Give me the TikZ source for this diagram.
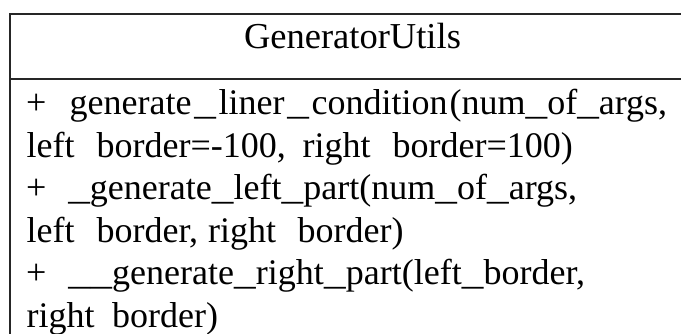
\documentclass[tikz,border=0pt]{standalone}
\usepackage{graphicx}
\usepackage{fontspec}
\setmainfont{Liberation Serif}
% wide underscore, with room to stretch on both sides inside a spread group
\newcommand{\us}{\hspace{0pt plus 1fil}\scalebox{1.2}[1]{\_}\hspace{0pt plus 1fil}}
% a run of text spread to a given width
\newcommand{\spread}[2]{\makebox[#1][s]{#2}}
\begin{document}
\begin{tikzpicture}[x=1pt,y=1pt,
  frame/.style={line width=1.3pt, draw=black!85},
  classname/.style={anchor=base, inner sep=0pt, font=\fontsize{36.5}{43}\selectfont},
  member/.style={anchor=base west, inner sep=0pt, font=\fontsize{36}{43}\selectfont}]
\useasboundingbox (0,0) rectangle (681,-334);
\clip (0,0) rectangle (681,-334);
% class box and the line under its name
\draw[frame] (10,-14) rectangle (700,-350);
\draw[frame] (10,-79) -- (700,-79);
\node[classname] (title) at (352.5,-48.3) {GeneratorUtils};
% generate_liner_condition
\node[member] (p1) at (26,-115) {+};
\node[member] (n1) at (69.5,-115) {\spread{378pt}{generate\us liner\us condition}};
\node[member] (a1) at (449.5,-115) {(num\us of\us args,};
\node[member] (l2a) at (26.5,-157.5) {left};
\node[member] (l2b) at (96.5,-157.5) {border=-100,};
\node[member] (l2c) at (302.5,-157.5) {right};
\node[member] (l2d) at (392.5,-157.5) {border=100)};
% _generate_left_part
\node[member] (p3) at (26,-200) {+};
\node[member] (n3) at (68,-200) {\spread{509pt}{\us generate\us left\us part(num\us of\us args,}};
\node[member] (l4a) at (26.5,-242.5) {left};
\node[member] (l4b) at (96.5,-242.5) {border,};
\node[member] (l4c) at (208,-242.5) {right};
\node[member] (l4d) at (297.5,-242.5) {border)};
% __generate_right_part
\node[member] (p5) at (26,-285) {+};
\node[member] (n5) at (68,-285) {\spread{517pt}{\us\us generate\us right\us part(left\us border,}};
\node[member] (l6a) at (26.5,-327.5) {right};
\node[member] (l6b) at (112,-327.5) {border)};
\end{tikzpicture}
\end{document}
